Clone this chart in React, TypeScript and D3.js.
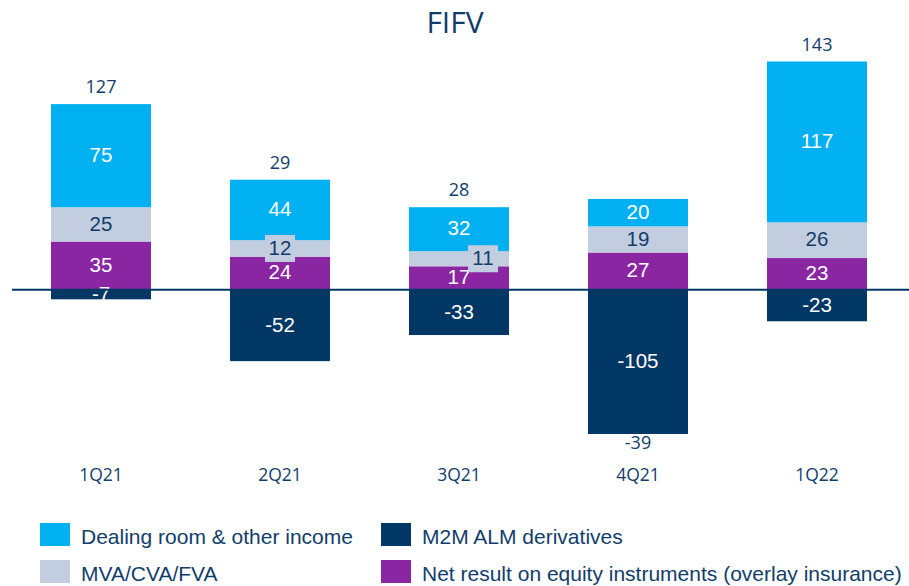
import React from "react";
import * as d3 from "d3";

const quarters = ["1Q21", "2Q21", "3Q21", "4Q21", "1Q22"];
const dealing = [75, 44, 32, 20, 117];
const mva = [25, 12, 11, 19, 26];
const equity = [35, 24, 17, 27, 23];
const m2m = [-7, -52, -33, -105, -23];
const totals = [127, 29, 28, -39, 143];

const seriesNames = [
  "Dealing room & other income",
  "M2M ALM derivatives",
  "MVA/CVA/FVA",
  "Net result on equity instruments (overlay insurance)",
];

const navy = "#003764";
const textNavy = "#123d6b";
const colors = {
  dealing: "#00b0f0",
  mva: "#c3cde0",
  equity: "#8a26a2",
  m2m: navy,
};

const W = 909;
const H = 586;
const barW = 100;

// labels that sit on a grey box (small segments)
const boxed = { "2Q21": 0, "3Q21": 24 };

const App = () => {
  const x = d3.scalePoint().domain(quarters).range([101, 817]);
  const y = d3.scaleLinear().domain([-105, 166]).range([434, 61.5]);
  const zero = y(0);

  const bars = quarters.map((q, i) => {
    const segs = [];
    let base = 0;
    [
      { key: "equity", v: equity[i], txt: "#fff" },
      { key: "mva", v: mva[i], txt: textNavy },
      { key: "dealing", v: dealing[i], txt: "#fff" },
    ].forEach((s) => {
      segs.push({ ...s, y0: base, y1: base + s.v });
      base += s.v;
    });
    segs.push({ key: "m2m", v: m2m[i], txt: "#fff", y0: 0, y1: m2m[i] });
    return { q, segs, top: base, bottom: m2m[i] };
  });

  const legend = [
    { name: seriesNames[0], c: colors.dealing, col: 0, row: 0 },
    { name: seriesNames[1], c: colors.m2m, col: 1, row: 0 },
    { name: seriesNames[2], c: colors.mva, col: 0, row: 1 },
    { name: seriesNames[3], c: colors.equity, col: 1, row: 1 },
  ];

  return (
    <svg
      width={W}
      height={H}
      viewBox={`0 0 ${W} ${H}`}
      style={{ position: "absolute", left: 0, top: 0, background: "#fff" }}
    >
      <text
        x={455}
        y={33}
        textAnchor="middle"
        fontFamily="Open Sans"
        fontSize={30}
        fill={textNavy}
      >
        FIFV
      </text>

      {bars.map((b, i) => {
        const cx = x(b.q);
        return (
          <g key={b.q}>
            {b.segs.map((s) => {
              const top = y(Math.max(s.y0, s.y1));
              const bot = y(Math.min(s.y0, s.y1));
              return (
                <rect
                  key={s.key}
                  x={cx - barW / 2}
                  y={top}
                  width={barW}
                  height={bot - top}
                  fill={colors[s.key]}
                />
              );
            })}
            {b.segs.map((s) => {
              const cy = (y(s.y0) + y(s.y1)) / 2;
              const isBoxed = s.key === "mva" && b.q in boxed;
              const lx = cx + (isBoxed ? boxed[b.q] : 0);
              return (
                <g key={s.key + "l"}>
                  {isBoxed && (
                    <rect
                      x={lx - 15}
                      y={cy - 13.5}
                      width={30}
                      height={27}
                      fill={colors.mva}
                    />
                  )}
                  <text
                    x={lx}
                    y={cy}
                    dy="0.3em"
                    textAnchor="middle"
                    fontFamily="Liberation Sans, Arial"
                    fontSize={20.5}
                    fill={s.txt}
                  >
                    {s.v}
                  </text>
                </g>
              );
            })}
            <text
              x={cx}
              y={totals[i] >= 0 ? y(b.top) - 11 : y(b.bottom) + 15}
              textAnchor="middle"
              fontFamily="Open Sans"
              fontSize={18}
              fill={textNavy}
            >
              {totals[i]}
            </text>
            <text
              x={cx}
              y={481}
              textAnchor="middle"
              fontFamily="Open Sans"
              fontSize={17.5}
              fill={textNavy}
            >
              {b.q}
            </text>
          </g>
        );
      })}

      <line x1={12} x2={W} y1={zero} y2={zero} stroke={navy} strokeWidth={2} />

      {legend.map((l) => {
        const lx = l.col === 0 ? 40 : 381;
        const ly = l.row === 0 ? 523 : 560;
        return (
          <g key={l.name}>
            <rect x={lx} y={ly} width={30} height={23} fill={l.c} />
            <text
              x={lx + 41}
              y={ly + 20.5}
              fontFamily="Liberation Sans, Arial"
              fontSize={21}
              fill={textNavy}
            >
              {l.name}
            </text>
          </g>
        );
      })}
    </svg>
  );
};

export default App;
